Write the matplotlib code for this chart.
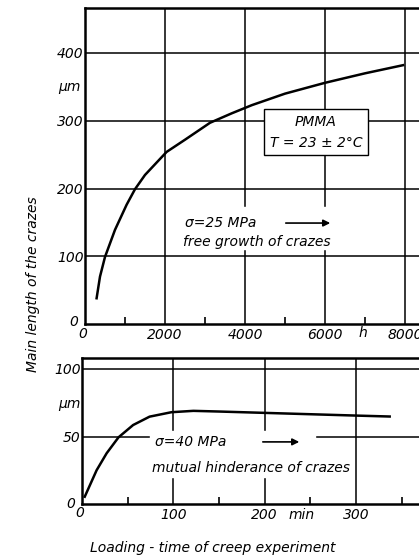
import numpy as np
import matplotlib.pyplot as plt
from matplotlib.patches import Rectangle

# Daten: freie Craze-Wachstum (25 MPa), Zeit in Stunden
t_top = [290, 375, 500, 750, 1040, 1250, 1500, 2040, 2500, 3125, 3670, 4170,
         5000, 6000, 7000, 7950]
L_top = [38, 70, 99, 139, 176, 199, 220, 254, 272, 297, 311, 323,
         340, 356, 370, 382]

# Daten: gegenseitige Behinderung (40 MPa), Zeit in Minuten
t_bot = [3, 16, 27, 40, 56, 74, 98, 122, 150, 200, 250, 300, 337]
L_bot = [5.4, 25, 37.6, 49.4, 58.5, 64.7, 68, 69, 68.5, 67.5, 66.5, 65.5, 64.8]

top_xticks = [2000, 4000, 6000, 8000]
top_yticks = [100, 200, 300, 400]
bot_xticks = [100, 200, 300]
bot_yticks = [50, 100]

W, H = 419, 558
fig = plt.figure(figsize=(W / 100, H / 100), dpi=100)
fs = 10

# --- oberes Diagramm ---
ax1 = fig.add_axes([85 / W, 1 - 324 / H, 1.0, (324 - 8) / H])
ax1.set_xlim(0, W / 0.04)
ax1.set_ylim(0, (324 - 8) / 0.6775)
ax1.plot(t_top, L_top, color='black', lw=1.8, zorder=3, solid_joinstyle='round')
ax1.set_xticks(top_xticks)
ax1.set_xticklabels([str(v) for v in top_xticks], fontsize=fs, style='italic')
ax1.set_yticks(top_yticks)
ax1.set_yticklabels([str(v) for v in top_yticks], fontsize=fs, style='italic')
ax1.set_xticks([1000, 3000, 5000, 7000], minor=True)
ax1.tick_params(axis='x', which='major', length=0, pad=3)
ax1.tick_params(axis='y', which='major', length=0, pad=1)
ax1.tick_params(which='minor', direction='in', length=5, width=1.2)
ax1.grid(True, which='major', color='black', lw=1.1)
ax1.text(-50, -4, '0', fontsize=fs, ha='center', va='top', style='italic',
         clip_on=False)
ax1.text(-175, -7, '0', fontsize=fs, ha='right', va='bottom', style='italic',
         clip_on=False)
ax1.add_patch(Rectangle((2400, 110), 4600, 63, color='white', zorder=1.6))
ax1.text(2500, 149, 'σ=25 MPa', fontsize=fs, va='center', style='italic')
ax1.annotate('', xy=(6200, 149), xytext=(4950, 149),
             arrowprops=dict(arrowstyle='-|>', color='black', lw=1.2))
ax1.text(2450, 110, 'free growth of crazes', fontsize=fs, va='bottom', style='italic')
ax1.text(5775, 283, 'PMMA\nT = 23 ± 2°C', fontsize=fs, ha='center', va='center',
         style='italic', linespacing=1.6, zorder=4,
         bbox=dict(boxstyle='square,pad=0.4', fc='white', ec='black', lw=1.0))
ax1.text(-100, 350, 'µm', fontsize=fs, ha='right', va='center', style='italic')
ax1.text(6950, -3, 'h', fontsize=fs, ha='center', va='top', style='italic')
for s in ax1.spines.values():
    s.set_linewidth(1.8)

# --- unteres Diagramm ---
ax2 = fig.add_axes([82 / W, 1 - 504 / H, 1.0, (504 - 358) / H])
ax2.set_xlim(0, W / 0.913)
ax2.set_ylim(0, (504 - 358) / 1.35)
ax2.plot(t_bot, L_bot, color='black', lw=1.8, zorder=3, solid_joinstyle='round')
ax2.set_xticks(bot_xticks)
ax2.set_xticklabels([str(v) for v in bot_xticks], fontsize=fs, style='italic')
ax2.set_yticks(bot_yticks)
ax2.set_yticklabels([str(v) for v in bot_yticks], fontsize=fs, style='italic')
ax2.set_xticks([50, 150, 250, 350], minor=True)
ax2.tick_params(axis='x', which='major', length=0, pad=3)
ax2.tick_params(axis='y', which='major', length=0, pad=1)
ax2.tick_params(which='minor', direction='in', length=5, width=1.2)
ax2.grid(True, which='major', color='black', lw=1.1)
ax2.text(-3, -1.5, '0', fontsize=fs, ha='center', va='top', style='italic',
         clip_on=False)
ax2.text(-7, -5, '0', fontsize=fs, ha='right', va='bottom', style='italic',
         clip_on=False)
ax2.add_patch(Rectangle((74, 20), 181, 34, color='white', zorder=1.6))
ax2.text(80, 46, 'σ=40 MPa', fontsize=fs, va='center', style='italic', zorder=4)
ax2.annotate('', xy=(241, 46), xytext=(195, 46),
             arrowprops=dict(arrowstyle='-|>', color='black', lw=1.2))
ax2.text(77, 27, 'mutual hinderance of crazes', fontsize=fs, va='center',
         style='italic', zorder=4,
         bbox=dict(boxstyle='square,pad=0.2', fc='white', ec='none'))
ax2.text(-2, 74, 'µm', fontsize=fs, ha='right', va='center', style='italic')
ax2.text(240, -3, 'min', fontsize=fs, ha='center', va='top', style='italic')
for s in ax2.spines.values():
    s.set_linewidth(1.8)

fig.text(33 / W, 1 - 284 / H, 'Main length of the crazes', rotation=90,
         fontsize=fs, ha='center', va='center', style='italic')
fig.text(213 / W, 1 - 548 / H, 'Loading - time of creep experiment',
         fontsize=fs, ha='center', va='center', style='italic')

fig.savefig('out.png', dpi=100)
